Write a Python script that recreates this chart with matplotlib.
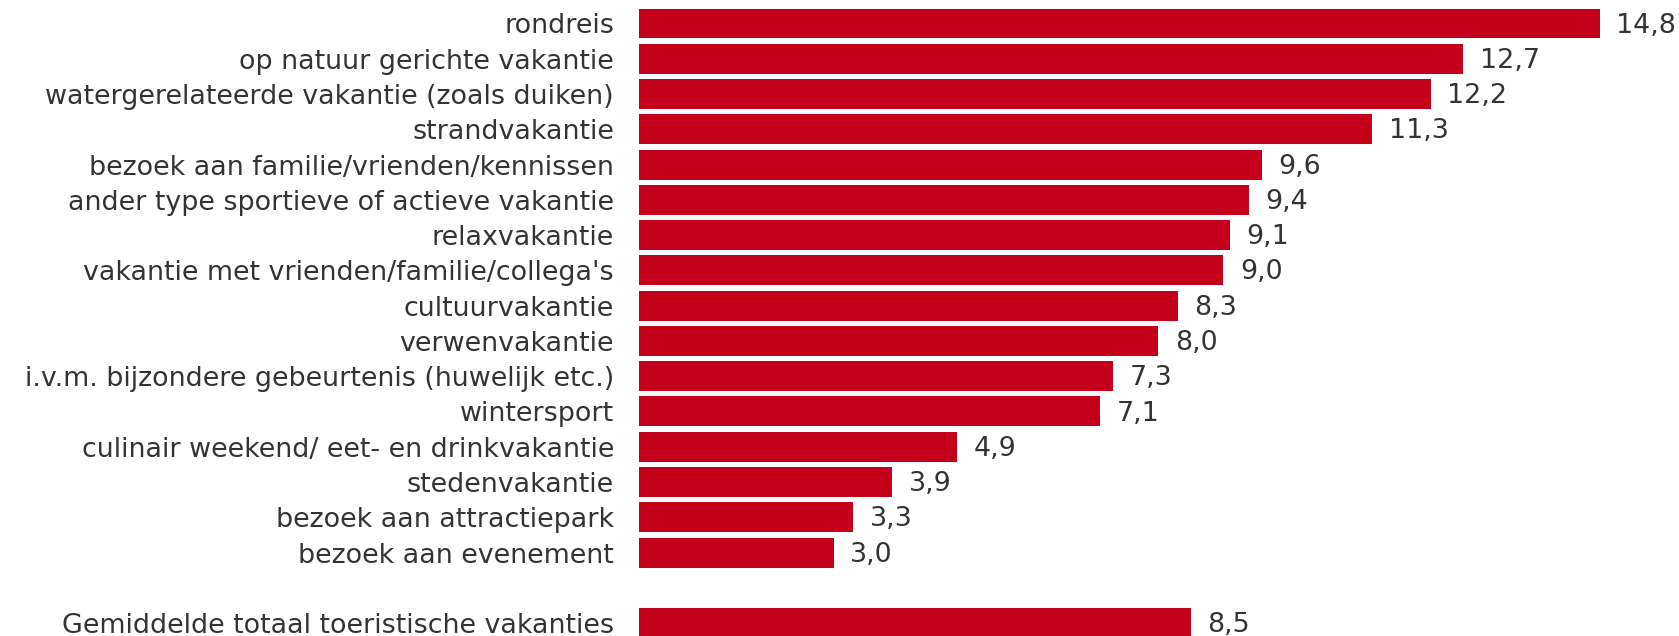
import matplotlib
matplotlib.use("Agg")
import matplotlib.pyplot as plt

categories = [
    "rondreis",
    "op natuur gerichte vakantie",
    "watergerelateerde vakantie (zoals duiken)",
    "strandvakantie",
    "bezoek aan familie/vrienden/kennissen",
    "ander type sportieve of actieve vakantie",
    "relaxvakantie",
    "vakantie met vrienden/familie/collega's",
    "cultuurvakantie",
    "verwenvakantie",
    "i.v.m. bijzondere gebeurtenis (huwelijk etc.)",
    "wintersport",
    "culinair weekend/ eet- en drinkvakantie",
    "stedenvakantie",
    "bezoek aan attractiepark",
    "bezoek aan evenement",
]
values = [14.8, 12.7, 12.2, 11.3, 9.6, 9.4, 9.1, 9.0, 8.3, 8.0, 7.3, 7.1, 4.9, 3.9, 3.3, 3.0]
total_label = "Gemiddelde totaal toeristische vakanties"
total_value = 8.5

RED = "#C4001A"
TXT = "#333333"
W, H = 1679, 636
FS = 19.4

fig = plt.figure(figsize=(W / 100, H / 100), dpi=100)
ax = fig.add_axes([639 / W, 0, 1 - 639 / W, 1])

labels = categories + [total_label]
vals = values + [total_value]
pos = list(range(len(categories))) + [len(categories) + 1]

ax.barh(pos, vals, height=0.85, color=RED, edgecolor="none")
for p, v in zip(pos, vals):
    ax.annotate(f"{v:.1f}".replace(".", ","), xy=(v, p), xytext=(12, -1.5),
                textcoords="offset points", va="center", ha="left",
                fontsize=FS, color=TXT)

ax.set_yticks(pos)
ax.set_yticklabels(labels, fontsize=FS, color=TXT)
ax.tick_params(axis="y", length=0, pad=18)
ax.set_xticks([])
ax.set_xlim(0, (W - 639) / 64.9)
ax.set_ylim((H - 23.5) / 35.27, -23.5 / 35.27)
for s in ax.spines.values():
    s.set_visible(False)

fig.savefig("out.png", dpi=100)
